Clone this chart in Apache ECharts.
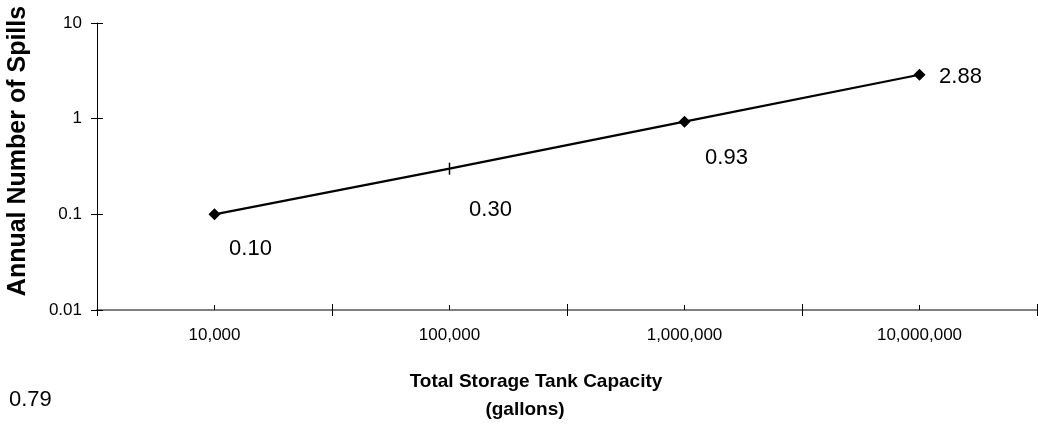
<!DOCTYPE html>
<html>
<head>
<meta charset="utf-8">
<script src="https://cdn.jsdelivr.net/npm/echarts@6/dist/echarts.min.js"></script>
<style>html,body{margin:0;padding:0;background:#fff}#c{width:1038px;height:424px}</style>
</head>
<body>
<div id="c"></div>
<script>
const categories = ['10,000', '100,000', '1,000,000', '10,000,000'];
const spills = [0.10, 0.30, 0.93, 2.88];
const spillLabels = ['0.10', '0.30', '0.93', '2.88'];
const yTicks = [0.01, 0.1, 1, 10];
const xTitle = ['Total Storage Tank Capacity', '(gallons)'];
const yTitle = 'Annual Number of Spills';
const footNote = '0.79';

const FONT = 'Liberation Sans, Arial, sans-serif';
const labelOffsets = [[36, 35], [41, 41], [42, 36], [41, 2]];
const symbols = ['diamond', 'rect', 'diamond', 'diamond'];
const symbolSizes = [[12, 12], [1.5, 12], [12, 12], [12, 12]];

const chart = echarts.init(document.getElementById('c'), null, {renderer: 'canvas'});

const data = spills.map((v, i) => ({
  value: v,
  symbol: symbols[i],
  symbolSize: symbolSizes[i],
  label: {
    show: true,
    position: 'inside',
    offset: labelOffsets[i],
    formatter: spillLabels[i],
    color: '#000',
    fontSize: 22,
    fontFamily: FONT
  }
}));

const grid = {left: 97, right: 1, top: 23, bottom: 114};
const yFmt = v => {
  const t = yTicks.find(x => Math.abs(x - v) / x < 1e-6);
  return t === undefined ? '' : String(t);
};

chart.setOption({
  animation: false,
  backgroundColor: '#fff',
  grid: grid,
  xAxis: [
    {
      type: 'category', data: categories, boundaryGap: true,
      axisLine: {show: true, lineStyle: {color: '#808080', width: 2}},
      axisTick: {show: true, inside: false, length: 6, lineStyle: {color: '#000', width: 1}},
      axisLabel: {color: '#000', fontSize: 17, fontFamily: FONT, margin: 17},
      splitLine: {show: false}
    },
    {
      type: 'category', data: categories, boundaryGap: true, position: 'bottom',
      axisLine: {show: false},
      axisTick: {show: true, inside: true, length: 6, lineStyle: {color: '#000', width: 1}},
      axisLabel: {show: false}, splitLine: {show: false}
    },
    {
      type: 'category', data: categories, boundaryGap: true, position: 'bottom',
      axisLine: {show: false},
      axisTick: {show: true, inside: true, alignWithLabel: true, length: 5, lineStyle: {color: '#000', width: 1}},
      axisLabel: {show: false}, splitLine: {show: false}
    }
  ],
  yAxis: [
    {
      type: 'log', logBase: 10, min: 0.01, max: 10,
      axisLine: {show: true, lineStyle: {color: '#000', width: 1}},
      axisTick: {show: true, inside: false, length: 6, lineStyle: {color: '#000'}},
      axisLabel: {color: '#000', fontSize: 17, fontFamily: FONT, margin: 15, formatter: yFmt},
      splitLine: {show: false}, minorTick: {show: false}
    },
    {
      type: 'log', logBase: 10, min: 0.01, max: 10, position: 'left',
      axisLine: {show: false},
      axisTick: {show: true, inside: true, length: 6, lineStyle: {color: '#000'}},
      axisLabel: {show: false}, splitLine: {show: false}
    }
  ],
  series: [{
    type: 'line',
    xAxisIndex: 0, yAxisIndex: 0,
    data: data,
    lineStyle: {color: '#000', width: 2.2},
    itemStyle: {color: '#000'},
    showAllSymbol: true
  }],
  graphic: [
    {
      type: 'text', x: 18, y: 151, rotation: Math.PI / 2,
      style: {text: yTitle, fill: '#000', font: 'bold 25px ' + FONT, align: 'center', verticalAlign: 'middle'}
    },
    {
      type: 'text', x: 536, y: 382,
      style: {text: xTitle[0], fill: '#000', font: 'bold 19px ' + FONT, align: 'center', verticalAlign: 'middle'}
    },
    {
      type: 'text', x: 525, y: 410,
      style: {text: xTitle[1], fill: '#000', font: 'bold 19px ' + FONT, align: 'center', verticalAlign: 'middle'}
    },
    {
      type: 'text', x: 9, y: 400,
      style: {text: footNote, fill: '#000', font: '22px ' + FONT, align: 'left', verticalAlign: 'middle'}
    }
  ]
});
</script>
</body>
</html>
